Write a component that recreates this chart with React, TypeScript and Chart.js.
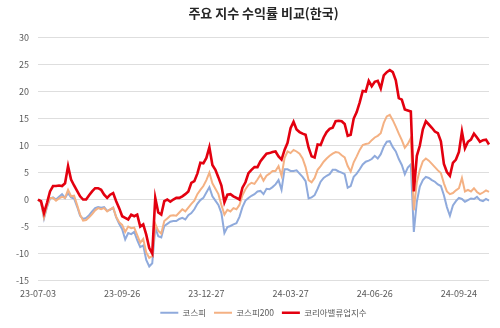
import { useEffect, useRef } from "react";
import { Chart, registerables } from "chart.js";

Chart.register(...registerables);

const FONT = "'Noto Sans CJK KR', 'Noto Sans', sans-serif";

const chartTitle = "주요 지수 수익률 비교(한국)";
const seriesNames = ["코스피", "코스피200", "코리아밸류업지수"];
const tickLabels = ["23-07-03", "23-09-26", "23-12-27", "24-03-27", "24-06-26", "24-09-24"];
const tickStep = 28;

const kospi = [
  0, -0.5, -3.5, -1.4, 0.2, 0.4, 0.0, 0.5, 1.0, 0.3,
  1.2, 0.4, 0.2, -1.3, -3.0, -3.6, -3.4, -2.9, -2.2, -1.6,
  -1.4, -1.5, -1.4, -2.1, -1.9, -1.5, -3.3, -4.5, -5.5, -7.4,
  -6.2, -6.4, -6.0, -7.5, -8.8, -8.5, -11.2, -12.4, -11.8, -5.2,
  -6.8, -7.0, -4.9, -4.5, -4.1, -4.0, -4.0, -3.6, -3.4, -3.7,
  -2.9, -2.5, -1.8, -0.8, -0.1, 0.3, 1.3, 2.3, 0.6, -0.2,
  -1.0, -2.5, -6.2, -5.1, -4.9, -4.6, -4.4, -3.2, -1.4, -0.2,
  0.3, 0.7, 1.0, 1.5, 1.6, 1.0, 2.0, 1.9, 2.3, 2.8,
  3.6, 1.8, 5.6, 5.6, 5.3, 5.3, 5.4, 4.8, 4.2, 3.4,
  0.2, 0.4, 0.8, 2.0, 3.3, 4.0, 4.4, 4.7, 5.5, 5.5,
  5.2, 5.0, 4.7, 2.2, 2.5, 4.2, 4.8, 5.6, 6.5, 7.0,
  7.2, 7.5, 8.1, 7.6, 8.4, 9.8, 10.7, 10.8, 9.7, 8.9,
  7.5, 6.4, 4.7, 5.9, 6.5, -6.0, -0.4, 2.4, 3.6, 4.2,
  4.0, 3.6, 3.3, 2.8, 2.5, 0.8, -1.4, -3.0, -1.1, -0.3,
  0.3, 0.1, -0.4, -0.1, 0.2, 0.1, 0.5, -0.1, -0.3, 0.1, -0.2,
];

const kospi200 = [
  0, -0.5, -3.3, -1.2, 0.3, 0.3, -0.2, 0.2, 0.5, 0.3,
  1.8, 0.6, 0.7, -1.0, -2.8, -3.9, -3.8, -3.3, -2.7, -2.0,
  -1.6, -1.8, -1.6, -2.2, -1.8, -1.5, -3.2, -4.2, -4.7, -6.0,
  -5.0, -5.3, -5.2, -6.6, -8.0, -7.3, -9.8, -10.8, -10.5, -4.5,
  -5.8, -6.3, -4.0, -3.5, -3.0, -2.9, -3.0, -2.4, -1.8, -2.2,
  -1.5, -0.8, -0.2, 1.0, 1.8, 2.5, 3.6, 5.0, 3.0, 2.0,
  1.0, -1.0, -2.8, -1.9, -2.2, -1.6, -1.8, -1.0, 0.8, 1.9,
  2.7, 3.1, 2.9, 3.7, 4.6, 3.5, 4.4, 4.8, 5.3, 5.3,
  6.2, 4.4, 7.7, 8.9, 8.6, 9.2, 8.9, 8.5, 7.6, 6.0,
  3.6, 3.2, 4.0, 5.5, 6.2, 7.0, 7.6, 8.1, 8.5, 8.8,
  8.7, 8.2, 7.8, 6.2, 5.2, 6.9, 8.0, 9.2, 10.1, 10.3,
  10.4, 11.0, 11.5, 11.8, 12.3, 14.2, 15.4, 15.7, 14.7, 13.5,
  12.2, 11.0, 9.6, 10.3, 11.4, -2.0, 3.2, 5.5, 7.1, 7.6,
  7.2, 6.6, 6.0, 5.4, 4.9, 3.0, 1.5, 1.0, 1.2, 1.7,
  2.1, 4.0, 1.5, 1.8, 1.5, 2.1, 1.4, 1.0, 1.3, 1.7, 1.4,
];

const valueUp = [
  0, -0.3, -2.5, -0.6, 1.5, 2.5, 2.5, 2.6, 2.5, 3.0,
  6.2, 3.7, 2.6, 1.6, 0.6, 0.0, 0.0, 0.8, 1.5, 2.1,
  2.1, 1.8, 0.9, 0.3, 0.9, 1.2, -0.3, -1.6, -3.1, -3.4,
  -3.7, -2.8, -3.1, -2.8, -5.0, -4.6, -6.5, -9.0, -10.0, 0.3,
  -2.4, -2.8, -0.3, 0.0, -0.4, 0.0, 0.3, 0.3, 0.6, 1.0,
  1.5, 3.1, 3.4, 4.8, 6.8, 6.7, 7.7, 9.7, 6.4, 5.5,
  4.1, 2.6, -0.5, 0.9, 1.0, 0.6, 0.3, 0.0, 2.2, 3.2,
  4.9, 5.5, 6.0, 6.0, 7.1, 7.8, 8.5, 8.6, 8.8, 8.9,
  8.0, 7.4, 9.2, 10.5, 13.2, 14.4, 13.0, 12.5, 12.2, 12.0,
  9.6, 8.0, 7.8, 10.2, 10.1, 11.5, 12.5, 13.1, 13.3, 14.5,
  14.6, 14.5, 14.0, 11.8, 12.0, 15.0, 16.2, 18.0, 20.1, 20.0,
  22.0, 21.0, 21.8, 22.0, 20.6, 23.0, 23.6, 24.0, 23.6, 22.1,
  18.8, 18.5, 16.7, 16.5, 16.3, 1.5, 8.1, 10.0, 13.0, 14.5,
  13.9, 13.3, 12.6, 12.3, 10.8, 6.6, 5.1, 4.4, 6.8, 7.4,
  8.8, 12.6, 9.5, 10.7, 11.1, 12.2, 11.5, 10.7, 11.0, 11.1, 10.2,
];

const seriesColors = ["#8FAADC", "#F4B183", "#E3000F"];
const seriesWidths = [2, 2, 2.6];

const categories = kospi.map((_, i) =>
  i % tickStep === 0 && tickLabels[i / tickStep] !== undefined ? tickLabels[i / tickStep] : ""
);

export default function App() {
  const canvasRef = useRef<HTMLCanvasElement | null>(null);

  useEffect(() => {
    const canvas = canvasRef.current;
    if (!canvas) return;
    const allSeries = [kospi, kospi200, valueUp];
    const chart = new Chart(canvas, {
      type: "line",
      data: {
        labels: categories,
        datasets: allSeries.map((values, k) => ({
          label: seriesNames[k],
          data: values,
          borderColor: seriesColors[k],
          backgroundColor: seriesColors[k],
          borderWidth: seriesWidths[k],
          pointRadius: 0,
          pointHoverRadius: 0,
          pointBorderWidth: seriesWidths[k],
          pointBorderColor: seriesColors[k],
          pointBackgroundColor: seriesColors[k],
          tension: 0,
          fill: false,
          order: 2 - k,
        })),
      },
      options: {
        responsive: false,
        animation: false,
        devicePixelRatio: 1,
        layout: { padding: { left: 8, right: 11, top: 0, bottom: 1 } },
        plugins: {
          title: {
            display: true,
            text: chartTitle,
            fullSize: false,
            color: "#262626",
            font: { family: FONT, size: 13, weight: "bold" },
            padding: { top: 5, bottom: 17 },
          },
          legend: {
            position: "bottom",
            fullSize: false,
            labels: {
              usePointStyle: true,
              pointStyle: "line",
              pointStyleWidth: 18,
              color: "#595959",
              font: { family: FONT, size: 8.5 },
              padding: 8,
              sort: (a: any, b: any) => a.datasetIndex - b.datasetIndex,
            },
          },
          tooltip: { enabled: false },
        },
        scales: {
          x: {
            type: "category",
            grid: { display: false, drawTicks: false },
            border: { display: false },
            ticks: {
              autoSkip: false,
              maxRotation: 0,
              minRotation: 0,
              padding: 8,
              color: "#595959",
              font: { family: FONT, size: 9 },
            },
            afterFit: (s: any) => {
              s.height = 20;
            },
          },
          y: {
            min: -15,
            max: 30,
            grid: { color: "#DEDEDE", drawTicks: false, lineWidth: 1 },
            border: { display: false },
            ticks: {
              stepSize: 5,
              padding: 9,
              color: "#595959",
              font: { family: FONT, size: 9 },
            },
            afterFit: (s: any) => {
              s.width = 30;
            },
          },
        },
      } as any,
    });
    return () => chart.destroy();
  }, []);

  return (
    <div style={{ position: "absolute", left: 0, top: 0, width: 500, height: 328, background: "#ffffff" }}>
      <canvas ref={canvasRef} width={500} height={328} style={{ display: "block", width: 500, height: 328 }} />
    </div>
  );
}
